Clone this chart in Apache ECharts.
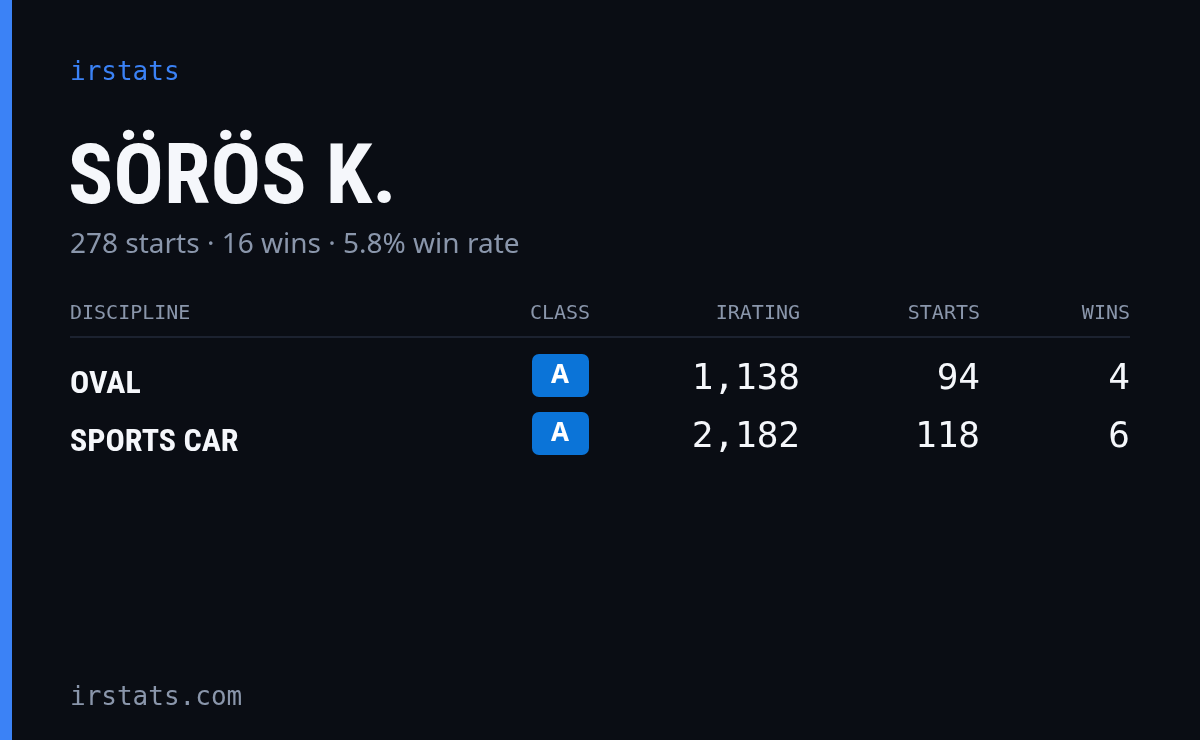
<!DOCTYPE html>
<html>
<head>
<meta charset="utf-8">
<script src="https://cdn.jsdelivr.net/npm/echarts@6/dist/echarts.min.js"></script>
<style>
  html, body { margin: 0; padding: 0; background: #0a0d14; }
  #main { width: 1200px; height: 740px; }
</style>
</head>
<body>
<div id="main"></div>
<script>
// card data
var driverName = 'SÖRÖS K.';
var totalStarts = 278;
var totalWins = 16;
var headers = ['DISCIPLINE', 'CLASS', 'IRATING', 'STARTS', 'WINS'];
var disciplines = ['OVAL', 'SPORTS CAR'];
var classes = ['A', 'A'];
var iratings = [1138, 2182];
var starts = [94, 118];
var wins = [4, 6];

var mono = '"DejaVu Sans Mono", monospace';
var narrow = '"Liberation Sans Narrow", "Roboto Condensed", "Noto Sans", sans-serif';
var sans = '"Noto Sans", Roboto, sans-serif';

function fmt(n) {
    return n.toLocaleString('en-US');
}

var myChart = echarts.init(document.getElementById('main'));

var colX = [70, 560, 800, 980, 1130];
var colAlign = ['left', 'center', 'right', 'right', 'right'];
var rowY = [380, 438];

var els = [];
els.push({ type: 'rect', shape: { x: 0, y: 0, width: 12, height: 740 }, style: { fill: '#3b82f6' } });
els.push({ type: 'text', style: { x: 70, y: 73, text: 'irstats', fill: '#3b82f6', font: '500 26px ' + mono, verticalAlign: 'middle' } });
els.push({ type: 'text', style: { x: 68, y: 182, text: driverName, fill: '#f5f7fb', font: 'bold 84px ' + narrow, verticalAlign: 'middle' } });
els.push({ type: 'text', style: {
    x: 70, y: 245, verticalAlign: 'middle', fill: '#8a96ab', font: '28px ' + sans,
    text: totalStarts + ' starts · ' + totalWins + ' wins · ' + (totalWins / totalStarts * 100).toFixed(1) + '% win rate'
} });

headers.forEach(function (h, i) {
    els.push({ type: 'text', style: { x: colX[i], y: 314, text: h, fill: '#8a96ab', font: '20px ' + mono, align: colAlign[i], verticalAlign: 'middle' } });
});
els.push({ type: 'line', shape: { x1: 70, y1: 337, x2: 1130, y2: 337 }, style: { stroke: '#1c2230', lineWidth: 2 } });

disciplines.forEach(function (d, r) {
    var y = rowY[r];
    els.push({ type: 'text', style: { x: 70, y: y + 5, text: d, fill: '#f5f7fb', font: 'bold 32px ' + narrow, verticalAlign: 'middle' } });
    els.push({ type: 'rect', shape: { x: 532, y: y - 26, width: 57, height: 43, r: 7 }, style: { fill: '#0b74d8' } });
    els.push({ type: 'text', style: { x: 560, y: y - 4, text: classes[r], fill: '#ffffff', font: 'bold 26px ' + sans, align: 'center', verticalAlign: 'middle' } });
    [fmt(iratings[r]), String(starts[r]), String(wins[r])].forEach(function (v, k) {
        els.push({ type: 'text', style: { x: colX[k + 2], y: y, text: v, fill: '#f5f7fb', font: '500 36px ' + mono, align: 'right', verticalAlign: 'middle' } });
    });
});

els.push({ type: 'text', style: { x: 70, y: 698, text: 'irstats.com', fill: '#8a96ab', font: '500 26px ' + mono, verticalAlign: 'middle' } });

var option = {
    backgroundColor: '#0a0d14',
    graphic: { elements: els }
};
myChart.setOption(option);
</script>
</body>
</html>
